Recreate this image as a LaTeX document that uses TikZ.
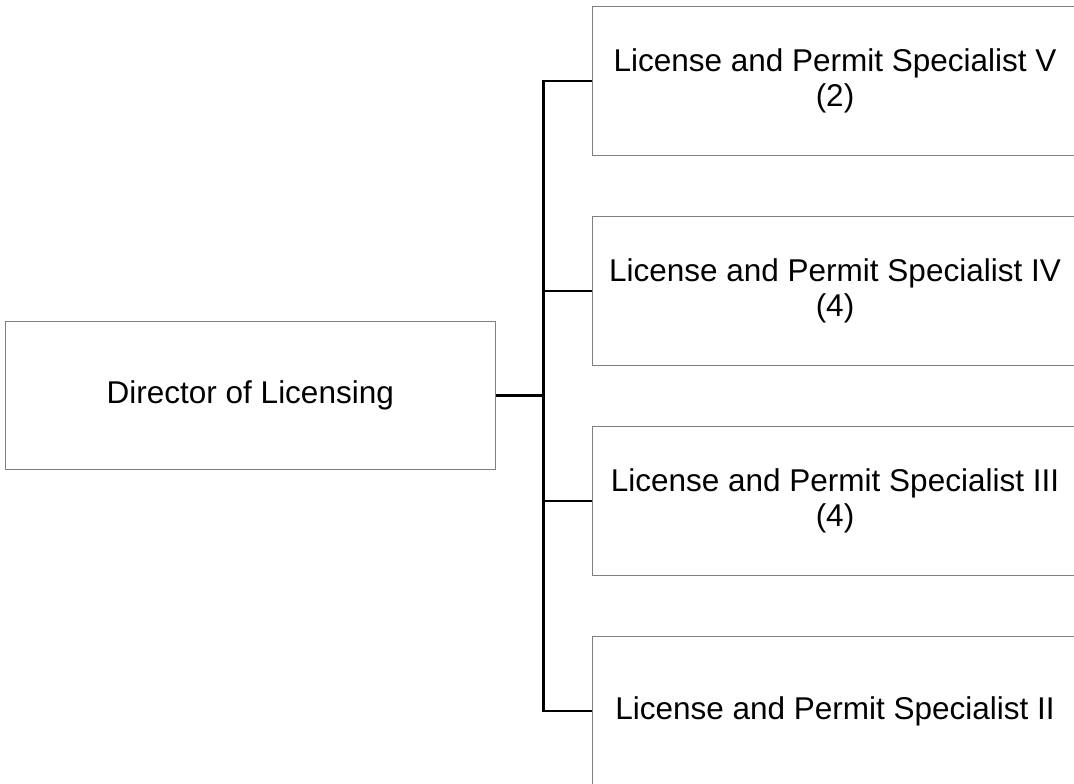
\documentclass[tikz,border=0pt]{standalone}
\usepackage{fontspec}
\setmainfont{Liberation Sans}
\definecolor{boxline}{HTML}{808080}
\begin{document}
\begin{tikzpicture}[x=1pt,y=-1pt,
  orgbox/.style={draw=boxline, line width=1.4pt, fill=white, inner sep=0pt,
    minimum width=485pt, minimum height=149pt, align=center,
    font=\fontsize{31.5}{35.5}\selectfont},
  headbox/.style={orgbox, minimum width=490pt, minimum height=148pt},
  link/.style={draw=black, line width=2.4pt}
]
  \useasboundingbox (0,0) rectangle (1074,784);
  \clip (0,0) rectangle (1074,784);

  % head of the unit
  \node[headbox] (dir) at (250.3,395.5) {Director of Licensing};

  % staff positions
  \node[orgbox] (lp5) at (835,81)  {License and Permit Specialist V\\(2)};
  \node[orgbox] (lp4) at (835,291) {License and Permit Specialist IV\\(4)};
  \node[orgbox] (lp3) at (835,501) {License and Permit Specialist III\\(4)};
  \node[orgbox] (lp2) at (835,711) {License and Permit Specialist II};

  % reporting lines
  \coordinate (trunk) at (543.5,395.5);
  \draw[link] (dir.east) -- (trunk);
  \draw[link] (trunk) |- (lp5.west);
  \draw[link] (trunk) |- (lp4.west);
  \draw[link] (trunk) |- (lp3.west);
  \draw[link] (trunk) |- (lp2.west);
\end{tikzpicture}
\end{document}
